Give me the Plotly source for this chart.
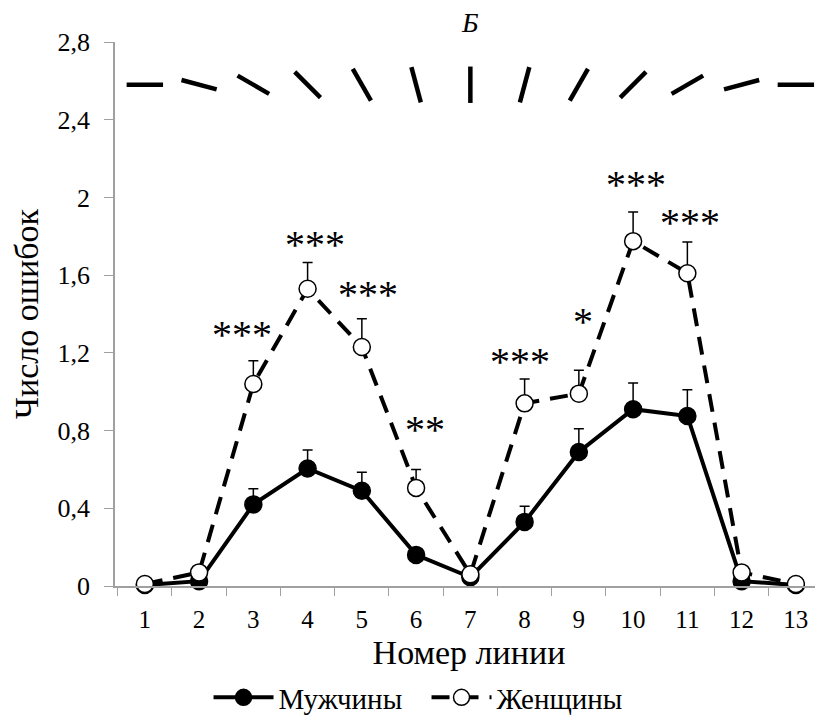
import plotly.graph_objects as go

# ---- data ----
lines = ["1", "2", "3", "4", "5", "6", "7", "8", "9", "10", "11", "12", "13"]
men = [0.005, 0.025, 0.42, 0.605, 0.49, 0.16, 0.045, 0.33, 0.69, 0.91, 0.875, 0.025, 0.005]
men_err = [0, 0, 0.08, 0.095, 0.095, 0.02, 0, 0.08, 0.12, 0.135, 0.135, 0, 0]
women = [0.01, 0.07, 1.04, 1.53, 1.23, 0.505, 0.06, 0.94, 0.99, 1.775, 1.61, 0.07, 0.01]
women_err = [0, 0, 0.12, 0.135, 0.145, 0.095, 0, 0.125, 0.12, 0.15, 0.16, 0, 0]
signif = ["", "", "***", "***", "***", "**", "", "***", "*", "***", "***", "", ""]
orient_deg = [0, 15, 30, 45, 60, 75, 90, 105, 120, 135, 150, 165, 180]
y_ticks = [0, 0.4, 0.8, 1.2, 1.6, 2.0, 2.4, 2.8]
y_ticklabels = ["0", "0,4", "0,8", "1,2", "1,6", "2", "2,4", "2,8"]

# ---- layout helpers (pixel nudges for star labels) ----
star_dx = [0, 0, -11, 7, 6, 9, 0, -5, 4, 3, 3, 0, 0]
star_dy = [0, 0, 26, 18, 24, 40, 0, 18, 49, 28, 20, 0, 0]

FONT = "Liberation Serif"

fig = go.Figure()

# orientation segments at the top
fig.add_trace(go.Scatter(
    x=lines, y=[2.58] * len(lines), mode="markers",
    marker=dict(symbol="line-ew", size=26, angle=orient_deg,
                line=dict(color="black", width=4.5)),
    showlegend=False, hoverinfo="skip", cliponaxis=False))

fig.add_trace(go.Scatter(
    x=lines, y=men, mode="lines+markers", name="Мужчины",
    line=dict(color="black", width=4),
    marker=dict(symbol="circle", size=17, color="black",
                line=dict(color="black", width=1.5)),
    error_y=dict(type="data", symmetric=False, array=men_err,
                 arrayminus=[0] * len(men), color="black",
                 thickness=1.5, width=5),
    cliponaxis=False))

fig.add_trace(go.Scatter(
    x=lines, y=women, mode="lines+markers", name="Женщины",
    line=dict(color="black", width=4, dash="18px,11px"),
    marker=dict(symbol="circle", size=17, color="white",
                line=dict(color="black", width=1.5)),
    error_y=dict(type="data", symmetric=False, array=women_err,
                 arrayminus=[0] * len(women), color="black",
                 thickness=1.5, width=5),
    cliponaxis=False))

annotations = []
for i, s in enumerate(signif):
    if s:
        annotations.append(dict(
            x=i, y=women[i] + women_err[i], xref="x", yref="y",
            text=s, showarrow=False,
            xshift=star_dx[i], yshift=star_dy[i],
            yanchor="middle", xanchor="center",
            font=dict(family=FONT, size=40, color="black")))

annotations.append(dict(
    x=6, y=1, xref="x", yref="paper", yanchor="bottom", yshift=2,
    text="<i>Б</i>", showarrow=False,
    font=dict(family=FONT, size=28, color="black")))

# page body has an 8px margin: figure is sized/offset to compensate
fig.update_layout(
    width=815, height=715,
    margin=dict(l=107, r=0, t=34, b=131),
    paper_bgcolor="white", plot_bgcolor="white",
    font=dict(family=FONT, size=20, color="black"),
    annotations=annotations,
    legend=dict(orientation="h", x=0.44, xanchor="center",
                y=-0.205, yanchor="middle",
                font=dict(family=FONT, size=29, color="black"),
                itemwidth=60, entrywidth=143, entrywidthmode="pixels"),
    xaxis=dict(type="category", range=[-0.55, 12.5], automargin=False,
               tickson="boundaries", ticks="outside", ticklen=8,
               ticklabelstandoff=10,
               tickcolor="#a0a0a0", showline=True, linecolor="#a0a0a0",
               linewidth=1.5, showgrid=False, zeroline=False,
               tickfont=dict(family=FONT, size=25, color="black"),
               title=dict(text="Номер линии",
                          font=dict(family=FONT, size=34, color="black"),
                          standoff=8)),
    yaxis=dict(range=[0, 2.8], tickvals=y_ticks, ticktext=y_ticklabels,
               automargin=False, ticklabelstandoff=9,
               ticks="outside", ticklen=9, tickcolor="#a0a0a0",
               showline=True, linecolor="#a0a0a0", linewidth=1.5,
               showgrid=False, zeroline=False,
               tickfont=dict(family=FONT, size=26, color="black"),
               title=dict(text="Число ошибок",
                          font=dict(family=FONT, size=34, color="black"),
                          standoff=18)),
)

fig.write_html("out.html")
